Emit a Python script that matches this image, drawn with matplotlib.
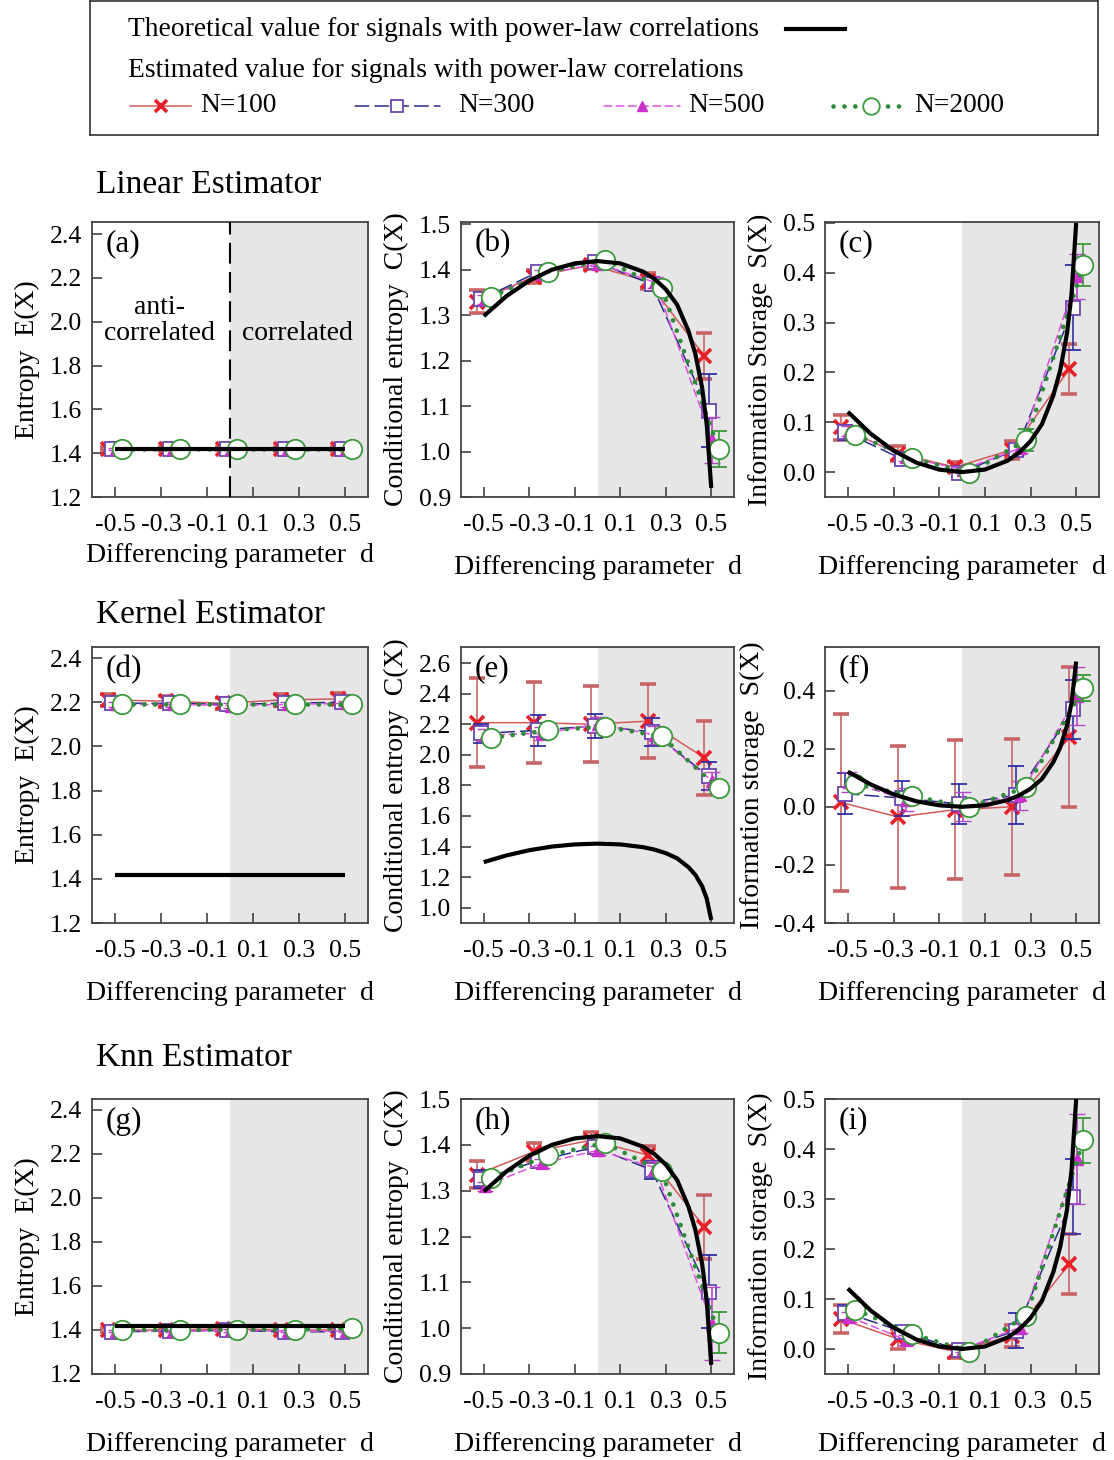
import matplotlib
matplotlib.use("Agg")
import matplotlib.pyplot as plt
from matplotlib.lines import Line2D

plt.rcParams['font.family'] = ['Liberation Serif', 'DejaVu Serif']
plt.rcParams['mathtext.fontset'] = 'stix'

# ---- data ----
d_vals = [-0.5, -0.25, 0.0, 0.25, 0.5]
sizes = ["N=100", "N=300", "N=500", "N=2000"]

# theoretical curves
d_theory = [-0.5, -0.4, -0.3, -0.2, -0.1, 0.0, 0.1, 0.2, 0.25, 0.3, 0.35, 0.4, 0.43, 0.46, 0.48, 0.5]
C_theory = [1.298, 1.342, 1.376, 1.400, 1.414, 1.419, 1.414, 1.396, 1.380, 1.357, 1.323, 1.265,
            1.215, 1.140, 1.060, 0.920]
S_theory = [0.121, 0.077, 0.043, 0.019, 0.005, 0.0, 0.005, 0.023, 0.039, 0.062, 0.096, 0.154,
            0.204, 0.279, 0.359, 0.500]
d_flat = [-0.5, 0.5]
E_theory = [1.419, 1.419]

# linear estimator
lin_E = {"N=100": [1.421, 1.420, 1.421, 1.420, 1.420],
         "N=300": [1.420, 1.420, 1.420, 1.420, 1.420],
         "N=500": [1.420, 1.420, 1.420, 1.420, 1.420],
         "N=2000": [1.419, 1.419, 1.419, 1.419, 1.419]}
lin_E_err = {"N=100": [0.008, 0.008, 0.008, 0.008, 0.008],
             "N=300": [0.005, 0.005, 0.005, 0.005, 0.005],
             "N=500": [0.004, 0.004, 0.004, 0.004, 0.004],
             "N=2000": [0.002, 0.002, 0.002, 0.002, 0.002]}
lin_C = {"N=100": [1.330, 1.385, 1.410, 1.375, 1.210],
         "N=300": [1.335, 1.395, 1.418, 1.368, 1.090],
         "N=500": [1.335, 1.390, 1.413, 1.372, 1.025],
         "N=2000": [1.340, 1.395, 1.422, 1.360, 1.005]}
lin_C_err = {"N=100": [0.025, 0.015, 0.008, 0.018, 0.050],
             "N=300": [0.015, 0.012, 0.008, 0.015, 0.080],
             "N=500": [0.010, 0.010, 0.005, 0.012, 0.050],
             "N=2000": [0.008, 0.006, 0.004, 0.010, 0.040]}
lin_S = {"N=100": [0.090, 0.037, 0.010, 0.045, 0.207],
         "N=300": [0.080, 0.026, -0.002, 0.045, 0.330],
         "N=500": [0.082, 0.030, 0.005, 0.048, 0.393],
         "N=2000": [0.075, 0.028, -0.002, 0.065, 0.415]}
lin_S_err = {"N=100": [0.025, 0.015, 0.010, 0.018, 0.050],
             "N=300": [0.015, 0.010, 0.008, 0.012, 0.085],
             "N=500": [0.010, 0.008, 0.006, 0.010, 0.045],
             "N=2000": [0.010, 0.008, 0.005, 0.022, 0.042]}

# kernel estimator
ker_E = {"N=100": [2.210, 2.205, 2.195, 2.210, 2.215],
         "N=300": [2.195, 2.195, 2.190, 2.195, 2.200],
         "N=500": [2.190, 2.190, 2.185, 2.190, 2.195],
         "N=2000": [2.190, 2.190, 2.190, 2.190, 2.190]}
ker_E_err = {"N=100": [0.025, 0.025, 0.025, 0.025, 0.025],
             "N=300": [0.015, 0.015, 0.015, 0.015, 0.015],
             "N=500": [0.012, 0.012, 0.012, 0.012, 0.012],
             "N=2000": [0.006, 0.006, 0.006, 0.006, 0.006]}
ker_C = {"N=100": [2.210, 2.210, 2.200, 2.220, 1.980],
         "N=300": [2.140, 2.160, 2.190, 2.150, 1.860],
         "N=500": [2.130, 2.140, 2.200, 2.130, 1.830],
         "N=2000": [2.110, 2.160, 2.185, 2.120, 1.780]}
ker_C_err = {"N=100": [0.290, 0.265, 0.250, 0.240, 0.240],
             "N=300": [0.060, 0.100, 0.080, 0.090, 0.090],
             "N=500": [0.040, 0.040, 0.050, 0.060, 0.060],
             "N=2000": [0.020, 0.020, 0.030, 0.030, 0.040]}
ker_S = {"N=100": [0.015, -0.035, -0.010, 0.000, 0.240],
         "N=300": [0.045, 0.030, 0.010, 0.040, 0.335],
         "N=500": [0.085, 0.025, 0.000, 0.040, 0.380],
         "N=2000": [0.078, 0.037, -0.002, 0.068, 0.408]}
ker_S_err = {"N=100": [0.305, 0.245, 0.240, 0.235, 0.240],
             "N=300": [0.070, 0.060, 0.070, 0.100, 0.100],
             "N=500": [0.035, 0.040, 0.050, 0.050, 0.100],
             "N=2000": [0.020, 0.020, 0.020, 0.020, 0.045]}

# knn estimator
knn_E = {"N=100": [1.400, 1.400, 1.405, 1.400, 1.400],
         "N=300": [1.392, 1.395, 1.398, 1.392, 1.392],
         "N=500": [1.395, 1.395, 1.398, 1.395, 1.395],
         "N=2000": [1.400, 1.400, 1.402, 1.402, 1.408]}
knn_E_err = {"N=100": [0.010, 0.010, 0.010, 0.010, 0.010],
             "N=300": [0.006, 0.006, 0.006, 0.006, 0.006],
             "N=500": [0.005, 0.005, 0.005, 0.005, 0.005],
             "N=2000": [0.003, 0.003, 0.003, 0.003, 0.003]}
knn_C = {"N=100": [1.335, 1.385, 1.410, 1.378, 1.220],
         "N=300": [1.325, 1.365, 1.395, 1.345, 1.080],
         "N=500": [1.310, 1.360, 1.388, 1.350, 1.010],
         "N=2000": [1.327, 1.377, 1.404, 1.342, 0.990]}
knn_C_err = {"N=100": [0.030, 0.020, 0.018, 0.020, 0.070],
             "N=300": [0.020, 0.015, 0.015, 0.020, 0.080],
             "N=500": [0.010, 0.010, 0.010, 0.015, 0.080],
             "N=2000": [0.008, 0.008, 0.006, 0.010, 0.045]}
knn_S = {"N=100": [0.060, 0.020, -0.005, 0.027, 0.170],
         "N=300": [0.073, 0.035, -0.002, 0.037, 0.305],
         "N=500": [0.065, 0.018, 0.000, 0.043, 0.380],
         "N=2000": [0.079, 0.030, -0.005, 0.067, 0.418]}
knn_S_err = {"N=100": [0.028, 0.020, 0.012, 0.022, 0.060],
             "N=300": [0.015, 0.012, 0.008, 0.035, 0.075],
             "N=500": [0.010, 0.010, 0.006, 0.010, 0.090],
             "N=2000": [0.008, 0.008, 0.005, 0.010, 0.045]}

# ---- styles ----
offset = {"N=100": -0.03, "N=300": -0.012, "N=500": 0.004, "N=2000": 0.032}
style = {
    "N=100": dict(color="#d45a5a", ls="-", lw=1.1, marker="x", ms=10, mec="#e8202a",
                  mfc="#e8202a", mew=2.6, ecolor="#c86464", zorder=3),
    "N=300": dict(color="#2a2a8c", ls=(0, (9, 4)), lw=1.1, marker="s", ms=10, mec="#6a48b0",
                  mfc="white", mew=1.3, ecolor="#3030a8", zorder=3.2),
    "N=500": dict(color="#e050e0", ls=(0, (5, 3)), lw=1.1, marker="^", ms=9, mec="#cc30cc",
                  mfc="#cc30cc", mew=1.0, ecolor="#b848c8", zorder=3.4),
    "N=2000": dict(color="#2e8b3a", ls=(0, (0.01, 2.3)), lw=3.4, marker="o", ms=14,
                   mec="#3a9a3a", mfc="white", mew=1.3, ecolor="#3a9a3a", zorder=3.6),
}

W, H = 1114, 1460
fig = plt.figure(figsize=(W / 100, H / 100), dpi=100)


def rect(l, t, r, b):
    return [l / W, 1 - b / H, (r - l) / W, (b - t) / H]


cols = [(92, 368), (461, 734), (825, 1099)]
rows = [(222, 497), (647, 923), (1099, 1374)]

panels = [
    ("(a)", lin_E, lin_E_err, "E", (1.2, 2.455), [1.2, 1.4, 1.6, 1.8, 2.0, 2.2, 2.4], "Entropy  E(X)"),
    ("(b)", lin_C, lin_C_err, "C", (0.9, 1.505), [0.9, 1.0, 1.1, 1.2, 1.3, 1.4, 1.5], "Conditional entropy  C(X)"),
    ("(c)", lin_S, lin_S_err, "S", (-0.05, 0.502), [0.0, 0.1, 0.2, 0.3, 0.4, 0.5], "Information Storage  S(X)"),
    ("(d)", ker_E, ker_E_err, "E", (1.2, 2.45), [1.2, 1.4, 1.6, 1.8, 2.0, 2.2, 2.4], "Entropy  E(X)"),
    ("(e)", ker_C, ker_C_err, "C", (0.9, 2.705), [1.0, 1.2, 1.4, 1.6, 1.8, 2.0, 2.2, 2.4, 2.6], "Conditional entropy  C(X)"),
    ("(f)", ker_S, ker_S_err, "S", (-0.4, 0.55), [-0.4, -0.2, 0.0, 0.2, 0.4], "Information storage  S(X)"),
    ("(g)", knn_E, knn_E_err, "E", (1.2, 2.45), [1.2, 1.4, 1.6, 1.8, 2.0, 2.2, 2.4], "Entropy  E(X)"),
    ("(h)", knn_C, knn_C_err, "C", (0.9, 1.5), [0.9, 1.0, 1.1, 1.2, 1.3, 1.4, 1.5], "Conditional entropy  C(X)"),
    ("(i)", knn_S, knn_S_err, "S", (-0.05, 0.5), [0.0, 0.1, 0.2, 0.3, 0.4, 0.5], "Information storage  S(X)"),
]

theory = {"E": (d_flat, E_theory), "C": (d_theory, C_theory), "S": (d_theory, S_theory)}

for k, (lab, vals, errs, kind, ylim, yticks, ylabel) in enumerate(panels):
    r, c = divmod(k, 3)
    ax = fig.add_axes(rect(cols[c][0], rows[r][0], cols[c][1], rows[r][1]))
    ax.set_xlim(-0.6, 0.6)
    ax.set_ylim(*ylim)
    ax.axvspan(0, 0.6, color="#e6e6e6", zorder=0, lw=0)
    for n in sizes:
        st = style[n]
        xs = [d + offset[n] for d in d_vals]
        ax.errorbar(xs, vals[n], yerr=errs[n], color=st["color"], ls=st["ls"], lw=st["lw"],
                    marker=st["marker"], ms=st["ms"], mec=st["mec"], mfc=st["mfc"], mew=st["mew"],
                    ecolor=st["ecolor"], elinewidth=1.2, capsize=6, capthick=1.2,
                    dash_capstyle="round", zorder=st["zorder"])
    tx, ty = theory[kind]
    ax.plot(tx, ty, color="black", lw=3, zorder=5, solid_capstyle="butt")
    if lab == "(a)":
        ax.axvline(0, color="black", lw=1.5, ls=(0, (10, 4)), zorder=6)
        ax.text(0.245, 0.69, "anti-", transform=ax.transAxes, ha="center", va="center", fontsize=20)
        ax.text(0.245, 0.596, "correlated", transform=ax.transAxes, ha="center", va="center", fontsize=20)
        ax.text(0.745, 0.596, "correlated", transform=ax.transAxes, ha="center", va="center", fontsize=20)
    ax.text(0.05, 0.92, lab, transform=ax.transAxes, ha="left", va="center", fontsize=22.5, zorder=7)
    ax.set_xticks([-0.5, -0.3, -0.1, 0.1, 0.3, 0.5])
    ax.set_xticklabels(["-0.5", "-0.3", "-0.1", "0.1", "0.3", "0.5"])
    ax.set_yticks(yticks)
    ax.set_yticklabels(["%.1f" % v for v in yticks])
    ax.tick_params(direction="in", length=7, width=1.1, labelsize=18.5, color="#333333")
    ax.tick_params(axis="x", pad=12)
    ax.tick_params(axis="y", pad=7)
    for sp in ax.spines.values():
        sp.set_color("#444444")
        sp.set_linewidth(1.3)
    ax.set_ylabel(ylabel, fontsize=20, labelpad=7)
    ax.set_xlabel("Differencing parameter  d", fontsize=20, labelpad=5 if lab == "(a)" else 14)

# section titles
fig.text(96 / W, 1 - 185 / H, "Linear Estimator", fontsize=24, ha="left", va="center")
fig.text(96 / W, 1 - 615 / H, "Kernel Estimator", fontsize=24, ha="left", va="center")
fig.text(96 / W, 1 - 1058 / H, "Knn Estimator", fontsize=24, ha="left", va="center")

# legend box
lax = fig.add_axes(rect(90, 1, 1098, 135))
lax.set_xlim(0, 1)
lax.set_ylim(0, 1)
lax.set_xticks([])
lax.set_yticks([])
for sp in lax.spines.values():
    sp.set_color("#333333")
    sp.set_linewidth(1.2)
lax.text(0.038, 0.79, "Theoretical value for signals with power-law correlations", fontsize=19.8, va="center")
lax.add_line(Line2D([0.69, 0.749], [0.79, 0.79], color="black", lw=3))
lax.text(0.038, 0.48, "Estimated value for signals with power-law correlations", fontsize=19.8, va="center")
leg_x = {"N=100": (0.04, 0.10, 0.109), "N=300": (0.263, 0.347, 0.365),
         "N=500": (0.51, 0.585, 0.593), "N=2000": (0.737, 0.812, 0.818)}
for n in sizes:
    st = style[n]
    x0, x1, xt = leg_x[n]
    lax.add_line(Line2D([x0, x1], [0.22, 0.22], color=st["color"], ls=st["ls"], lw=st["lw"],
                        dash_capstyle="round"))
    lax.add_line(Line2D([(x0 + x1) / 2], [0.22], marker=st["marker"], ms=st["ms"] * 0.85,
                        mec=st["mec"], mfc=st["mfc"], mew=st["mew"], ls="none"))
    lax.text(xt, 0.22, n, fontsize=19.8, va="center")

fig.savefig("out.png", dpi=100)
